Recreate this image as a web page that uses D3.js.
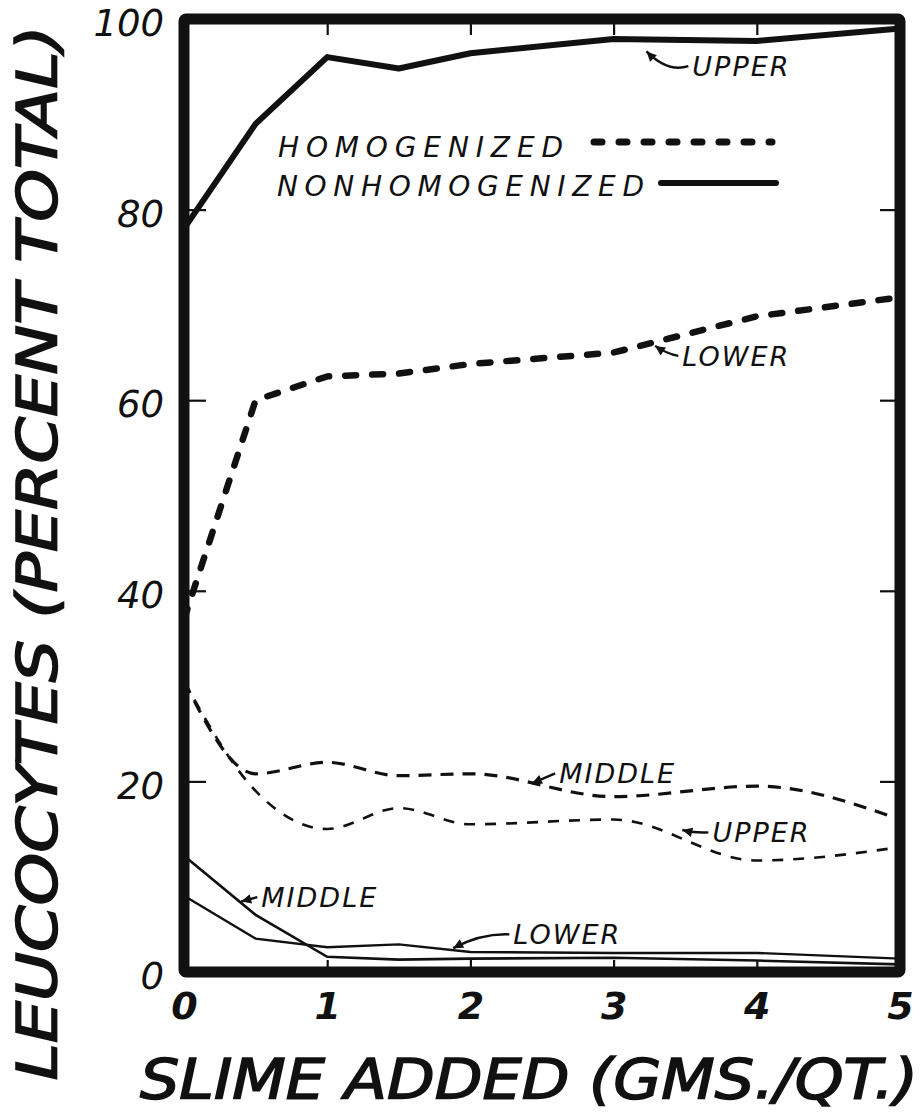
<!DOCTYPE html>
<html>
<head>
<meta charset="utf-8">
<script src="https://cdn.jsdelivr.net/npm/d3@7"></script>
<style>
  html, body { margin: 0; padding: 0; background: #fff; }
  svg { display: block; }
  text { font-family: "DejaVu Sans", sans-serif; font-style: oblique; fill: #111; }
</style>
</head>
<body>
<svg id="chart" width="924" height="1117"></svg>
<script>
// Slime added (gms./qt.) at each sampling point
const slime = [0, 0.5, 1, 1.5, 2, 3, 4, 5];

// Leucocytes, percent of total, by layer
const nonhomUpper  = [78.0, 89.0, 96.0, 94.8, 96.4, 97.9, 97.7, 99.0];
const nonhomMiddle = [12.2, 6.0, 1.6, 1.3, 1.4, 1.5, 1.2, 0.8];
const nonhomLower  = [8.0, 3.5, 2.6, 2.9, 2.1, 2.0, 2.0, 1.4];
const homLower     = [37.0, 60.0, 62.5, 62.8, 63.8, 65.0, 68.8, 70.8];
const homMiddle    = [30.5, 20.8, 22.0, 20.6, 20.8, 18.4, 19.5, 16.0];
const homUpper     = [30.5, 19.0, 15.0, 17.2, 15.5, 16.0, 11.7, 13.1];

const xTicks = [0, 1, 2, 3, 4, 5];
const yTicks = [0, 20, 40, 60, 80, 100];

// Layer labels: arrow tip (ax, ay) and label start (tx, ty) in data units
const notes = [
  { text: "UPPER",  ax: 3.23, ay: 96.6, tx: 3.55, ty: 94.0, bend: 14 },
  { text: "LOWER",  ax: 3.29, ay: 65.7, tx: 3.48, ty: 63.6, bend: 3 },
  { text: "MIDDLE", ax: 2.43, ay: 19.8, tx: 2.62, ty: 19.8, bend: 0 },
  { text: "UPPER",  ax: 3.48, ay: 14.9, tx: 3.69, ty: 13.6, bend: 2 },
  { text: "MIDDLE", ax: 0.40, ay: 7.4,  tx: 0.54, ty: 6.8,  bend: 0 },
  { text: "LOWER",  ax: 1.88, ay: 2.5,  tx: 2.30, ty: 2.9,  bend: -8 }
];

const svg = d3.select("#chart");
const x = d3.scaleLinear().domain([0, 5]).range([184, 900]);
const y = d3.scaleLinear().domain([0, 100]).range([972, 19]);

const line = (vals, curve) => d3.line()
  .x((d, i) => x(slime[i]))
  .y(d => y(d))
  .curve(curve)(vals);

const plot = svg.append("g");

// Homogenized: dashed
plot.append("path").attr("d", line(homLower, d3.curveLinear))
  .attr("fill", "none").attr("stroke", "#111").attr("stroke-width", 6.5)
  .attr("stroke-linecap", "round").attr("stroke-dasharray", "11 16");
plot.append("path").attr("d", line(homMiddle, d3.curveMonotoneX))
  .attr("fill", "none").attr("stroke", "#111").attr("stroke-width", 3.2)
  .attr("stroke-dasharray", "13 9");
plot.append("path").attr("d", line(homUpper, d3.curveMonotoneX))
  .attr("fill", "none").attr("stroke", "#111").attr("stroke-width", 2.6)
  .attr("stroke-dasharray", "11 10");

// Nonhomogenized: solid
plot.append("path").attr("d", line(nonhomUpper, d3.curveLinear))
  .attr("fill", "none").attr("stroke", "#111").attr("stroke-width", 6)
  .attr("stroke-linejoin", "round");
plot.append("path").attr("d", line(nonhomMiddle, d3.curveLinear))
  .attr("fill", "none").attr("stroke", "#111").attr("stroke-width", 2.6);
plot.append("path").attr("d", line(nonhomLower, d3.curveLinear))
  .attr("fill", "none").attr("stroke", "#111").attr("stroke-width", 2.4);

// Axes with inward ticks on all four sides
const inner = [20, 40, 60, 80];
const inX = [1, 2, 3, 4];

const axLeft = svg.append("g").attr("transform", `translate(${x(0)},0)`)
  .call(d3.axisLeft(y).tickValues(yTicks).tickSize(-22).tickPadding(20)
    .tickFormat(d3.format("d")));
const axRight = svg.append("g").attr("transform", `translate(${x(5)},0)`)
  .call(d3.axisRight(y).tickValues(inner).tickSize(-20).tickFormat(""));
const axBottom = svg.append("g").attr("transform", `translate(0,${y(0)})`)
  .call(d3.axisBottom(x).tickValues(xTicks).tickSize(-12).tickPadding(20)
    .tickFormat(d3.format("d")));
const axTop = svg.append("g").attr("transform", `translate(0,${y(100)})`)
  .call(d3.axisTop(x).tickValues(inX).tickSize(-16).tickFormat(""));

[axLeft, axRight, axBottom, axTop].forEach(g => {
  g.select(".domain").remove();
  g.selectAll(".tick line").attr("stroke", "#111").attr("stroke-width", 2.2);
});
axLeft.selectAll(".tick").filter(d => d === 0 || d === 100).select("line").remove();
axBottom.selectAll(".tick").filter(d => d === 0 || d === 5).select("line").remove();

axLeft.selectAll("text")
  .attr("font-family", "DejaVu Sans").attr("font-style", "oblique")
  .attr("font-size", 37).attr("dy", "0.45em").attr("fill", "#111");
axBottom.selectAll("text")
  .attr("font-family", "DejaVu Sans").attr("font-style", "oblique")
  .attr("font-size", 38).attr("font-weight", "bold").attr("fill", "#111");

// Heavy frame
svg.append("rect")
  .attr("x", x(0)).attr("y", y(100))
  .attr("width", x(5) - x(0)).attr("height", y(0) - y(100))
  .attr("fill", "none").attr("stroke", "#111").attr("stroke-width", 11)
  .attr("rx", 2);

// Legend
const lg = svg.append("g");
lg.append("text").attr("x", 278).attr("y", 157)
  .attr("font-size", 28).attr("textLength", 285).attr("lengthAdjust", "spacing")
  .text("HOMOGENIZED");
lg.append("line").attr("x1", 594).attr("x2", 772).attr("y1", 142).attr("y2", 142)
  .attr("stroke", "#111").attr("stroke-width", 7).attr("stroke-linecap", "round")
  .attr("stroke-dasharray", "8 17");
lg.append("text").attr("x", 277).attr("y", 196)
  .attr("font-size", 28).attr("textLength", 367).attr("lengthAdjust", "spacing")
  .text("NONHOMOGENIZED");
lg.append("line").attr("x1", 661).attr("x2", 776).attr("y1", 183).attr("y2", 183)
  .attr("stroke", "#111").attr("stroke-width", 6).attr("stroke-linecap", "round");

// Layer labels with leader arrows
const ann = svg.append("g");
notes.forEach(n => {
  const ax = x(n.ax), ay = y(n.ay);
  const tx = x(n.tx), ty = y(n.ty);
  const sx = tx - 4, sy = ty - 10;
  const mx = (ax + sx) / 2, my = (ay + sy) / 2 + n.bend;
  ann.append("path")
    .attr("d", `M${sx},${sy} Q${mx},${my} ${ax},${ay}`)
    .attr("fill", "none").attr("stroke", "#111").attr("stroke-width", 2.4);
  const ang = Math.atan2(ay - my, ax - mx);
  const L = 11, W = 0.45;
  const p1 = [ax - L * Math.cos(ang - W), ay - L * Math.sin(ang - W)];
  const p2 = [ax - L * Math.cos(ang + W), ay - L * Math.sin(ang + W)];
  ann.append("path")
    .attr("d", `M${ax},${ay} L${p1[0]},${p1[1]} L${p2[0]},${p2[1]} Z`)
    .attr("fill", "#111");
  ann.append("text").attr("x", tx).attr("y", ty)
    .attr("font-size", 27).attr("letter-spacing", 2)
    .text(n.text);
});

// Axis titles
svg.append("text")
  .attr("transform", "translate(56,553) rotate(-90)")
  .attr("text-anchor", "middle")
  .attr("font-size", 56)
  .attr("stroke", "#111").attr("stroke-width", 1.6)
  .attr("textLength", 1055).attr("lengthAdjust", "spacingAndGlyphs")
  .text("LEUCOCYTES (PERCENT TOTAL)");
svg.append("text")
  .attr("x", 140).attr("y", 1098)
  .attr("font-size", 56)
  .attr("stroke", "#111").attr("stroke-width", 1.6)
  .attr("textLength", 778).attr("lengthAdjust", "spacingAndGlyphs")
  .text("SLIME ADDED (GMS./QT.)");
</script>
</body>
</html>
